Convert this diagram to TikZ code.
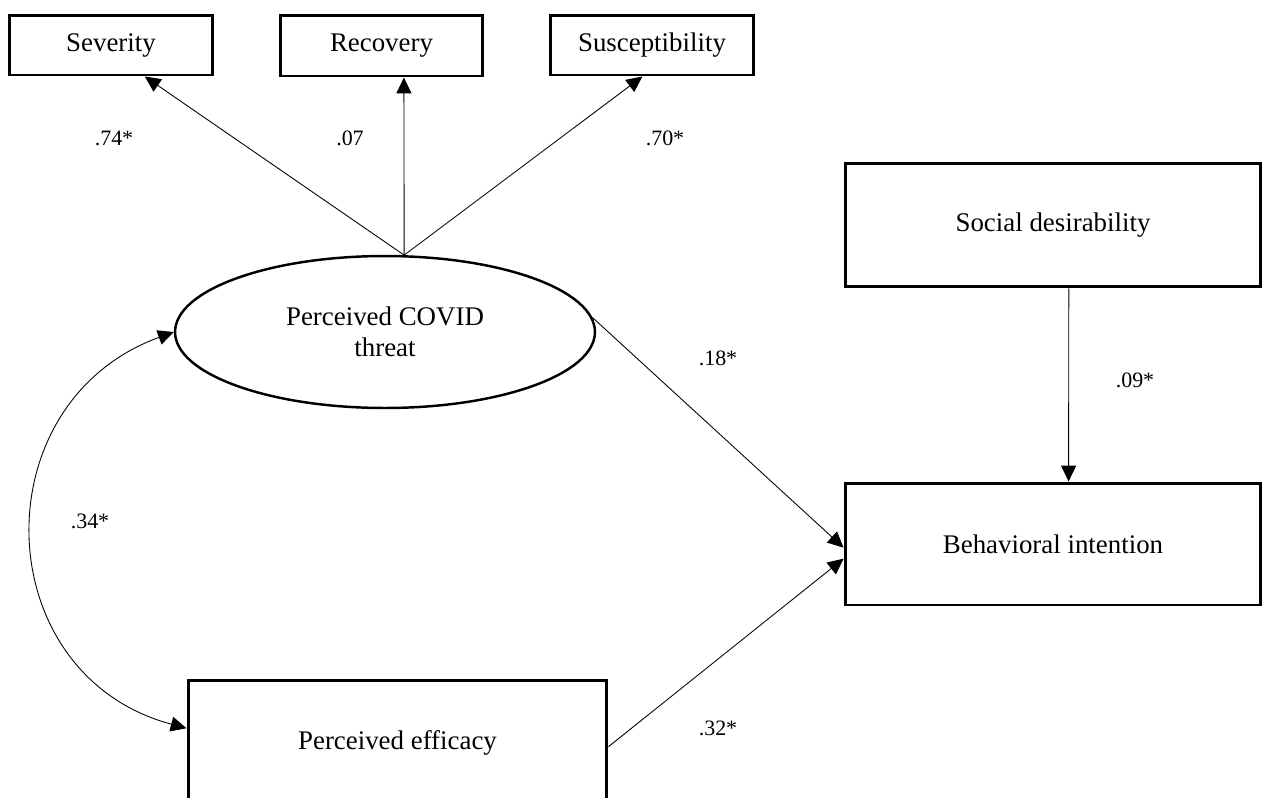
\documentclass[tikz,border=0pt]{standalone}
\usepackage{fontspec}
\setmainfont{Liberation Serif}
\usetikzlibrary{shapes.geometric,arrows.meta}
\tikzset{>={Triangle[length=9pt,width=8.5pt]}}

\begin{document}
\begin{tikzpicture}[x=0.02cm, y=0.02cm,
    obs/.style={draw, line width=1.7pt, inner sep=0pt, font=\fontsize{15.3}{18}\selectfont},
    lat/.style={draw, ellipse, line width=1.4pt, inner sep=0pt, align=center, font=\fontsize{15.3}{17.6}\selectfont},
    coef/.style={font=\fontsize{12.5}{14}\selectfont},
    link/.style={->, line width=0.5pt}]
    \useasboundingbox (0,0) rectangle (1262,-798);
    % indicators of threat
    \node[obs, minimum width=4.08cm, minimum height=1.2cm] (sev) at (111,-45) {Severity};
    \node[obs, minimum width=4.06cm, minimum height=1.22cm] (rec) at (381.5,-45.5) {Recovery};
    \node[obs, minimum width=4.08cm, minimum height=1.2cm] (sus) at (652,-45) {Susceptibility};
    % latent and observed variables
    \node[lat, minimum width=8.4cm, minimum height=3.04cm] (threat) at (385,-332) {Perceived COVID\\threat};
    \node[obs, minimum width=8.38cm, minimum height=2.52cm] (eff) at (397.5,-743) {Perceived efficacy};
    \node[obs, minimum width=8.32cm, minimum height=2.48cm] (soc) at (1053,-225) {Social desirability};
    \node[obs, minimum width=8.32cm, minimum height=2.44cm] (beh) at (1053,-544) {Behavioral intention};
    \coordinate (apex) at (threat.76);
    % paths
    \draw[link] (apex) -- (sev.-43);
    \draw[link] (apex) -- (rec.-55);
    \draw[link] (apex) -- (sus.-107);
    \draw[link] (threat.4) -- (beh.181.7);
    \draw[link] (eff.-1.4) -- (beh.184.4);
    \draw[link] (soc.-76.4) -- (beh.76.2);
    \draw[<->, line width=0.5pt] (threat.west) to[out=200, in=165, looseness=1.33] (eff.176.4);
    % coefficients
    \node[coef] (c74) at (114,-138) {.74*};
    \node[coef] (c07) at (350,-138) {.07};
    \node[coef] (c70) at (665,-138) {.70*};
    \node[coef] (c18) at (718,-358) {.18*};
    \node[coef] (c09) at (1135,-380) {.09*};
    \node[coef] (c32) at (718,-728) {.32*};
    \node[coef] (c34) at (90,-521) {.34*};
\end{tikzpicture}
\end{document}
